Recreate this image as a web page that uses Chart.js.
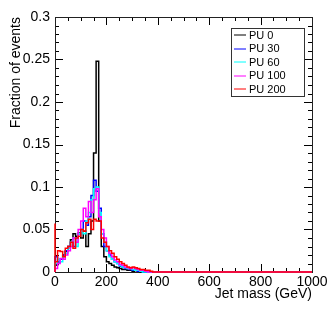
<!DOCTYPE html>
<html>
<head>
<meta charset="utf-8">
<script src="https://cdn.jsdelivr.net/npm/chart.js@4.4.1/dist/chart.umd.min.js"></script>
<style>
  html, body { margin: 0; padding: 0; background: #fff; }
  #wrap { width: 332px; height: 316px; }
</style>
</head>
<body>
<div id="wrap"><canvas id="chart"></canvas></div>
<script>
const binWidth = 10
const xMax = 1000
const xTicks = [0, 200, 400, 600, 800, 1000]
const xTickLabels = ['0', '200', '400', '600', '800', '1000']
const yTicks = [0, 0.05, 0.1, 0.15, 0.2, 0.25, 0.3]
const yTickLabels = ['0', '0.05', '0.1', '0.15', '0.2', '0.25', '0.3']

const seriesNames = ['PU 0', 'PU 30', 'PU 60', 'PU 100', 'PU 200']
const seriesColors = ['#000000', '#0000ff', '#00ffff', '#ff00ff', '#ff0000']

// bin contents, 10 GeV bins starting at 0, empty after the listed ones
const pu0 = [0.003, 0.008, 0.012, 0.015, 0.02, 0.024, 0.03, 0.038, 0.045, 0.042,
  0.046, 0.04, 0.048, 0.03, 0.045, 0.06, 0.14, 0.248, 0.06, 0.03,
  0.018, 0.012, 0.01, 0.008, 0.006, 0.005, 0.004, 0.003, 0.003, 0.002,
  0.002, 0.001, 0.002, 0.001]
const pu30 = [0.005, 0.018, 0.012, 0.015, 0.02, 0.025, 0.03, 0.035, 0.03, 0.04,
  0.045, 0.05, 0.06, 0.055, 0.065, 0.09, 0.108, 0.095, 0.075, 0.045,
  0.03, 0.025, 0.02, 0.015, 0.012, 0.01, 0.007, 0.006, 0.004, 0.004,
  0.003, 0.002, 0.002, 0.001, 0.001]
const pu60 = [0.004, 0.01, 0.015, 0.012, 0.018, 0.022, 0.028, 0.035, 0.04, 0.03,
  0.045, 0.05, 0.045, 0.06, 0.07, 0.085, 0.098, 0.1, 0.07, 0.045,
  0.035, 0.025, 0.018, 0.015, 0.012, 0.01, 0.008, 0.006, 0.005, 0.004,
  0.004, 0.003, 0.002, 0.002, 0.001]
const pu100 = [0.006, 0.004, 0.01, 0.016, 0.015, 0.02, 0.025, 0.03, 0.04, 0.035,
  0.05, 0.06, 0.075, 0.065, 0.083, 0.07, 0.085, 0.098, 0.065, 0.05,
  0.04, 0.03, 0.022, 0.018, 0.014, 0.012, 0.009, 0.008, 0.006, 0.005,
  0.004, 0.005, 0.004, 0.003, 0.002, 0.002, 0.001]
const pu200 = [0.057, 0.012, 0.025, 0.024, 0.018, 0.028, 0.03, 0.035, 0.028, 0.04,
  0.042, 0.05, 0.048, 0.058, 0.062, 0.05, 0.062, 0.06, 0.06, 0.04,
  0.035, 0.03, 0.025, 0.022, 0.018, 0.015, 0.012, 0.01, 0.008, 0.006,
  0.005, 0.006, 0.005, 0.004, 0.003, 0.003, 0.002, 0.002, 0.001]

const seriesValues = [pu0, pu30, pu60, pu100, pu200]

// outline like a ROOT "hist": up from zero at the first edge, down to zero at the last
const toSteps = (values) => {
  const points = [{ x: 0, y: 0 }]
  values.forEach((v, i) => points.push({ x: i * binWidth, y: v }))
  points.push({ x: values.length * binWidth, y: 0 })
  points.push({ x: xMax, y: 0 })
  return points
}

const frameTicks = {
  id: 'frameTicks',
  beforeDatasetsDraw(chart) {
    const { ctx, chartArea: a, scales: { x, y } } = chart
    ctx.save()
    ctx.strokeStyle = '#000'
    ctx.lineWidth = 1
    ctx.beginPath()
    for (let v = 0; v <= xMax; v += 50) {
      const px = Math.round(x.getPixelForValue(v)) + 0.5
      const len = v % 200 === 0 ? 8 : 4
      ctx.moveTo(px, a.bottom); ctx.lineTo(px, a.bottom - len)
      ctx.moveTo(px, a.top); ctx.lineTo(px, a.top + len)
    }
    for (let k = 0; k <= 30; k++) {
      const py = Math.round(y.getPixelForValue(k / 100)) + 0.5
      const len = k % 5 === 0 ? 8 : 4
      ctx.moveTo(a.left, py); ctx.lineTo(a.left + len, py)
      ctx.moveTo(a.right, py); ctx.lineTo(a.right - len, py)
    }
    ctx.stroke()
    ctx.strokeStyle = '#222'
    ctx.strokeRect(Math.round(a.left) + 0.5, Math.round(a.top) + 0.5,
      Math.round(a.right - a.left), Math.round(a.bottom - a.top))
    ctx.restore()
  },
}

const boxLegend = {
  id: 'boxLegend',
  afterDatasetsDraw(chart) {
    const { ctx } = chart
    const left = 231, top = 28, w = 73, h = 68
    ctx.save()
    ctx.fillStyle = '#fff'
    ctx.fillRect(left, top, w, h)
    ctx.strokeStyle = '#333'
    ctx.lineWidth = 1
    ctx.strokeRect(left + 0.5, top + 0.5, w, h)
    ctx.font = '11px "Liberation Sans", Arial, sans-serif'
    ctx.textBaseline = 'middle'
    seriesNames.forEach((name, i) => {
      const yy = top + 7 + i * 13.6
      ctx.strokeStyle = seriesColors[i]
      ctx.beginPath()
      ctx.moveTo(left + 3, Math.round(yy))
      ctx.lineTo(left + 15, Math.round(yy))
      ctx.stroke()
      ctx.fillStyle = '#000'
      ctx.fillText(name, left + 18, yy + 0.5)
    })
    ctx.restore()
  },
}

const font = { family: '"Liberation Sans", Arial, sans-serif', size: 14 }

new Chart(document.getElementById('chart'), {
  type: 'line',
  data: {
    datasets: seriesValues.map((values, i) => ({
      label: seriesNames[i],
      data: toSteps(values),
      borderColor: seriesColors[i],
      borderWidth: 1.5,
      stepped: 'after',
      pointRadius: 0,
      fill: false,
      clip: 3,
      order: seriesValues.length - i,
    })),
  },
  options: {
    responsive: true,
    maintainAspectRatio: false,
    animation: false,
    layout: { padding: { top: 17, right: 20, left: 0, bottom: 0 } },
    plugins: {
      legend: { display: false },
      tooltip: { enabled: false },
    },
    scales: {
      x: {
        type: 'linear',
        min: 0,
        max: xMax,
        afterBuildTicks: (scale) => { scale.ticks = xTicks.map((value) => ({ value })) },
        afterFit: (scale) => { scale.height = 44 },
        grid: { display: false, drawTicks: false },
        border: { display: false },
        ticks: {
          font,
          color: '#000',
          padding: 2,
          maxRotation: 0,
          autoSkip: false,
          callback: (value) => xTickLabels[xTicks.indexOf(value)] ?? '',
        },
        title: { display: true, text: 'Jet mass (GeV)', align: 'end', font, color: '#000', padding: { top: 0, bottom: 13 } },
      },
      y: {
        min: 0,
        max: 0.3,
        afterBuildTicks: (scale) => { scale.ticks = yTicks.map((value) => ({ value })) },
        afterFit: (scale) => { scale.width = 55 },
        grid: { display: false, drawTicks: false },
        border: { display: false },
        ticks: {
          font,
          color: '#000',
          padding: 5,
          callback: (value) => yTickLabels[yTicks.indexOf(value)] ?? '',
        },
        title: { display: true, text: 'Fraction of events', align: 'end', font, color: '#000', padding: { top: 8, bottom: 0 } },
      },
    },
  },
  plugins: [frameTicks, boxLegend],
})
</script>
</body>
</html>
